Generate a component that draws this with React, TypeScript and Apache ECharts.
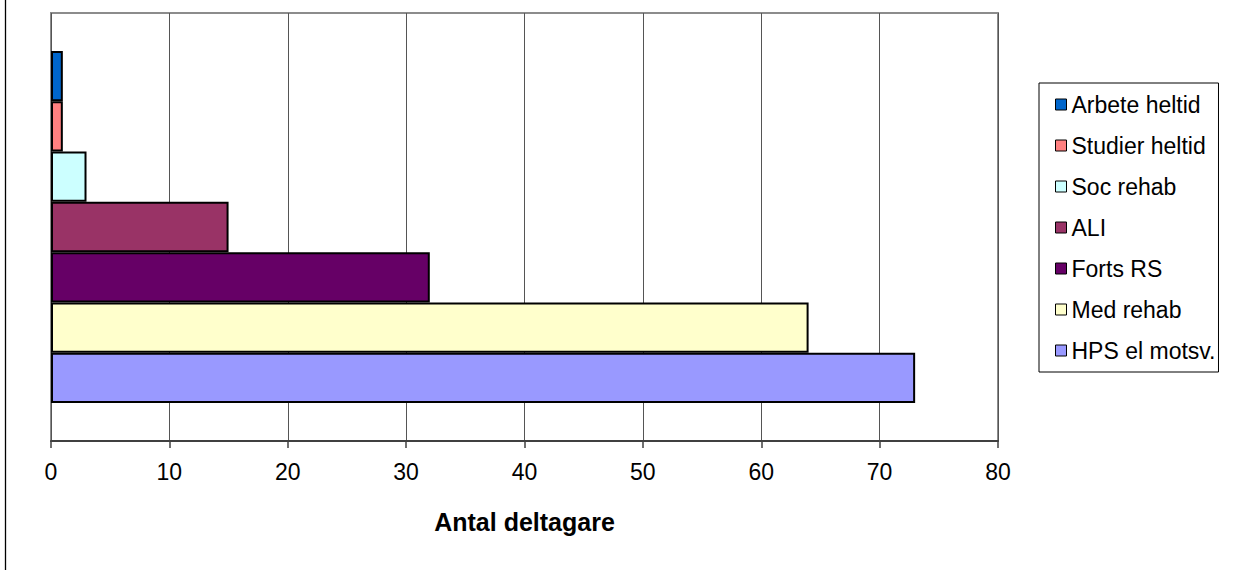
import React, { useEffect, useRef } from "react";
import * as echarts from "echarts";

const seriesNames = [
  "Arbete heltid",
  "Studier heltid",
  "Soc rehab",
  "ALI",
  "Forts RS",
  "Med rehab",
  "HPS el motsv.",
];
const seriesValues = [1, 1, 3, 15, 32, 64, 73];
const seriesColors = [
  "#0066CC",
  "#FF8080",
  "#CCFFFF",
  "#993366",
  "#660066",
  "#FFFFCC",
  "#9999FF",
];
const categories = [""];
const axisTitle = "Antal deltagare";

export default function App() {
  const ref = useRef<HTMLDivElement>(null);
  useEffect(() => {
    if (!ref.current) return;
    const chart = echarts.init(ref.current, undefined, { renderer: "svg" });
    const font = "Arial, 'Liberation Sans', sans-serif";
    chart.setOption({
      animation: false,
      backgroundColor: "#ffffff",
      textStyle: { fontFamily: font },
      grid: {
        left: 51,
        top: 13,
        right: 243,
        bottom: 129,
        show: true,
        borderColor: "#8c8c8c",
        borderWidth: 2,
        backgroundColor: "#ffffff",
      },
      legend: {
        data: seriesNames,
        orient: "vertical",
        left: 1039,
        top: 83,
        padding: [10, 3, 10, 16],
        borderColor: "#000000",
        borderWidth: 1,
        itemWidth: 11,
        itemHeight: 11,
        itemGap: 18,
        icon: "rect",
        itemStyle: { borderColor: "#000000", borderWidth: 1 },
        textStyle: {
          fontFamily: font,
          fontSize: 23,
          color: "#000000",
        },
      },
      xAxis: {
        type: "value",
        min: 0,
        max: 80,
        interval: 10,
        name: axisTitle,
        nameLocation: "middle",
        nameGap: 68,
        nameTextStyle: {
          fontFamily: font,
          fontSize: 25,
          fontWeight: "bold",
          color: "#000000",
        },
        axisLine: { show: true, lineStyle: { color: "#404040", width: 2 } },
        axisTick: {
          show: true,
          length: 7,
          lineStyle: { color: "#404040", width: 1.5 },
        },
        axisLabel: {
          fontFamily: font,
          fontSize: 23,
          color: "#000000",
          margin: 19,
        },
        splitLine: { show: true, lineStyle: { color: "#555555", width: 1 } },
      },
      yAxis: {
        type: "category",
        data: categories,
        axisLine: { show: false },
        axisTick: { show: false },
        axisLabel: { show: false },
        splitLine: { show: false },
      },
      graphic: [
        {
          type: "line",
          shape: { x1: 5.5, y1: 0, x2: 5.5, y2: 570 },
          style: { stroke: "#000000", lineWidth: 1.3 },
        },
      ],
      series: seriesNames.map((name, i) => ({
        name,
        type: "bar",
        data: [seriesValues[i]],
        barWidth: 50.3,
        barGap: "0%",
        itemStyle: {
          color: seriesColors[i],
          borderColor: "#000000",
          borderWidth: 2,
        },
      })),
    });
    return () => chart.dispose();
  }, []);
  return (
    <div
      ref={ref}
      style={{
        position: "absolute",
        left: 0,
        top: 0,
        width: 1241,
        height: 570,
      }}
    />
  );
}
